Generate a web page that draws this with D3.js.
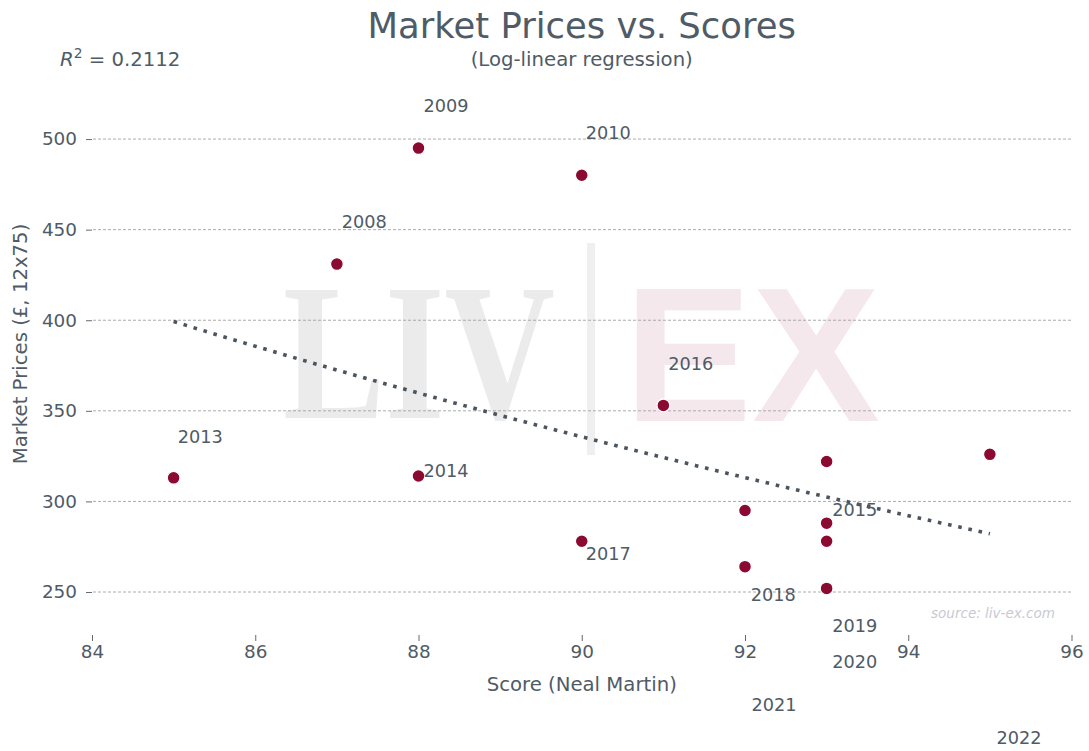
<!DOCTYPE html>
<html>
<head>
<meta charset="utf-8">
<script src="https://cdn.jsdelivr.net/npm/d3@7"></script>
<style>
  html, body { margin: 0; padding: 0; background: #ffffff; }
  svg { display: block; font-family: "DejaVu Sans", sans-serif; }
</style>
</head>
<body>
<svg id="chart" width="1089" height="751"></svg>
<script>
// ---- data ----
const scores = [85, 87, 88, 88, 90, 90, 91, 92, 92, 93, 93, 93, 93, 95];
const prices = [313, 431, 495, 314, 480, 278, 353, 295, 264, 322, 288, 278, 252, 326];

const labelTexts  = ["2013", "2008", "2009", "2014", "2010", "2017", "2016", "2018", "2021", "2015", "2019", "2020", "2022"];
const labelScores = [85.05, 87.06, 88.06, 88.06, 90.05, 90.05, 91.06, 92.07, 92.08, 93.07, 93.07, 93.07, 95.08];
const labelPrices = [332.2, 450.9, 514.9, 313.5, 500.0, 267.7, 372.5, 245.0, 184.3, 292.0, 227.9, 208.1, 166.1];

const xTicks = [84, 86, 88, 90, 92, 94, 96];
const yTicks = [250, 300, 350, 400, 450, 500];
const rSquaredText = "0.2112";

// ---- layout ----
const W = 1089, H = 751;
const plot = { left: 92, right: 1071.5, top: 94, bottom: 635 };
const textColor = "#4f5b66";
const pointColor = "#8b0a31";

const svg = d3.select("#chart");

const x = d3.scaleLinear().domain([84, 96]).range([plot.left, plot.right]);
const y = d3.scaleLinear().domain([226.27, 524.87]).range([plot.bottom, plot.top]);

// ---- watermark ----
const wm = svg.append("g").attr("class", "watermark");
wm.append("text")
  .attr("x", 283).attr("y", 418)
  .attr("font-family", "'Liberation Serif', 'DejaVu Serif', serif")
  .attr("font-weight", "bold")
  .attr("font-size", 196)
  .attr("textLength", 272).attr("lengthAdjust", "spacingAndGlyphs")
  .attr("fill", "#ebebeb")
  .text("LIV");
wm.append("rect")
  .attr("x", 587).attr("y", 243).attr("width", 8).attr("height", 212)
  .attr("fill", "#efefef");
wm.append("text")
  .attr("x", 624).attr("y", 421)
  .attr("font-family", "'Liberation Sans', Arial, sans-serif")
  .attr("font-weight", "bold")
  .attr("font-size", 192)
  .attr("textLength", 256).attr("lengthAdjust", "spacingAndGlyphs")
  .attr("fill", "#f5e8ec")
  .text("EX");

// ---- gridlines ----
svg.append("g").selectAll("line").data(yTicks).join("line")
  .attr("x1", plot.left + 1).attr("x2", plot.right)
  .attr("y1", d => y(d)).attr("y2", d => y(d))
  .attr("stroke", "#a3a3a3").attr("stroke-width", 0.9)
  .attr("stroke-dasharray", "3,2");

// ---- axes ----
const yAxis = svg.append("g")
  .attr("transform", `translate(${plot.left},0)`)
  .call(d3.axisLeft(y).tickValues(yTicks).tickSize(6).tickPadding(9).tickFormat(d3.format("d")));
yAxis.select(".domain").remove();
yAxis.selectAll(".tick line").attr("stroke", "#5f6b75").attr("stroke-width", 1);
yAxis.selectAll(".tick text")
  .attr("fill", textColor).attr("font-size", 18.4)
  .attr("font-family", "'DejaVu Sans', sans-serif");

const xAxis = svg.append("g")
  .attr("transform", `translate(0,${plot.bottom})`)
  .call(d3.axisBottom(x).tickValues(xTicks).tickSize(6).tickPadding(4).tickFormat(d3.format("d")));
xAxis.select(".domain").remove();
xAxis.selectAll(".tick line").attr("stroke", "#5f6b75").attr("stroke-width", 1);
xAxis.selectAll(".tick text")
  .attr("fill", textColor).attr("font-size", 18.4)
  .attr("font-family", "'DejaVu Sans', sans-serif");

// ---- regression (log-linear fit computed from the data) ----
const n = scores.length;
const lp = prices.map(p => Math.log(p));
const mx = d3.mean(scores), my = d3.mean(lp);
let sxy = 0, sxx = 0;
for (let i = 0; i < n; i++) { sxy += (scores[i] - mx) * (lp[i] - my); sxx += (scores[i] - mx) ** 2; }
const slope = sxy / sxx, intercept = my - slope * mx;
const [xmin, xmax] = d3.extent(scores);
const fitX = d3.range(0, 51).map(i => xmin + (xmax - xmin) * i / 50);
const fitPts = fitX.map(s => [s, Math.exp(intercept + slope * s)]);

svg.append("path")
  .datum(fitPts)
  .attr("d", d3.line().x(d => x(d[0])).y(d => y(d[1])))
  .attr("fill", "none")
  .attr("stroke", "#4a5560")
  .attr("stroke-width", 3.6)
  .attr("stroke-dasharray", "3.6,6.8");

// ---- points ----
svg.append("g").selectAll("circle").data(scores.map((s, i) => [s, prices[i]])).join("circle")
  .attr("cx", d => x(d[0])).attr("cy", d => y(d[1]))
  .attr("r", 6.4)
  .attr("fill", pointColor)
  .attr("stroke", "#ffffff").attr("stroke-width", 1.3);

// ---- year labels ----
svg.append("g").selectAll("text").data(labelTexts.map((t, i) => ({ t, s: labelScores[i], p: labelPrices[i] }))).join("text")
  .attr("x", d => x(d.s)).attr("y", d => y(d.p))
  .attr("fill", textColor).attr("font-size", 17.7)
  .text(d => d.t);

// ---- titles ----
const cx = (plot.left + plot.right) / 2;
svg.append("text")
  .attr("x", cx).attr("y", 38).attr("text-anchor", "middle")
  .attr("fill", textColor).attr("font-size", 35.4)
  .text("Market Prices vs. Scores");
svg.append("text")
  .attr("x", cx).attr("y", 66).attr("text-anchor", "middle")
  .attr("fill", textColor).attr("font-size", 19.7)
  .text("(Log-linear regression)");

// R squared
const r2 = svg.append("text")
  .attr("x", 60).attr("y", 66)
  .attr("fill", textColor).attr("font-size", 19.7);
r2.append("tspan").attr("font-style", "italic").text("R");
r2.append("tspan").attr("dy", -8).attr("font-size", 13.8).text("2");
r2.append("tspan").attr("dy", 8).text(" = " + rSquaredText);

// axis labels
svg.append("text")
  .attr("x", cx).attr("y", 691).attr("text-anchor", "middle")
  .attr("fill", textColor).attr("font-size", 19.7)
  .text("Score (Neal Martin)");
svg.append("text")
  .attr("transform", "translate(27,344) rotate(-90)")
  .attr("text-anchor", "middle")
  .attr("fill", textColor).attr("font-size", 19.7)
  .text("Market Prices (£, 12x75)");

// source
svg.append("text")
  .attr("x", 931).attr("y", 618)
  .attr("font-style", "italic")
  .attr("font-size", 13.6)
  .attr("textLength", 124).attr("lengthAdjust", "spacingAndGlyphs")
  .attr("fill", "#c9c9d3")
  .text("source: liv-ex.com");
</script>
</body>
</html>
